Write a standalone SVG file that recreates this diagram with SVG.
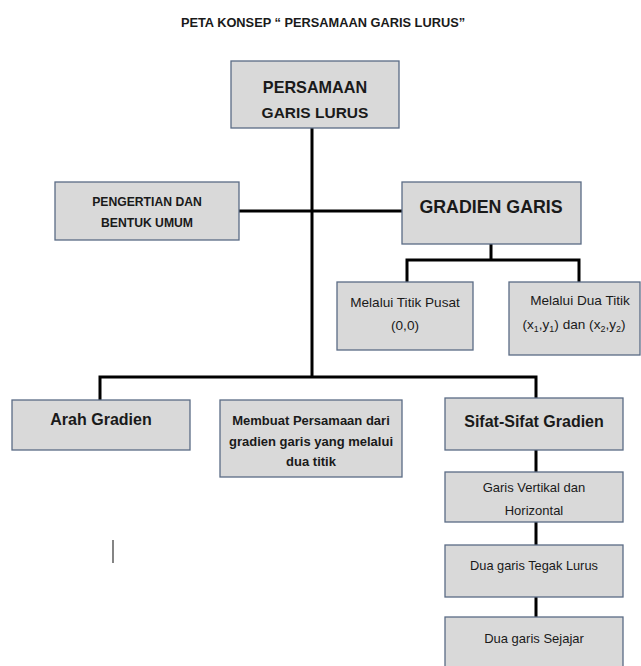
<svg xmlns="http://www.w3.org/2000/svg" width="641" height="666" viewBox="0 0 641 666">
<style>
.box{fill:#d9d9d9;stroke:#5a6b85;stroke-width:1.3}
.t{font-family:"Liberation Sans",Arial,sans-serif;fill:#1a1a1a;text-anchor:middle}
.b{font-weight:bold}
.c{stroke:#000;stroke-width:3;fill:none;stroke-linecap:square}
</style>
<rect width="641" height="666" fill="#fff"/>
<text class="t b" x="323" y="27" font-size="12.8">PETA KONSEP “ PERSAMAAN GARIS LURUS”</text>
<g id="connectors">
<path class="c" d="M312 128V377M239 211H402M491 244V260M407 260H579M407 260V282M579 260V282M100 377H536M100 377V400M536 377V398M536 450V472M536 522V545M536 597V617"/>
</g>
<g id="persamaan">
<rect class="box" x="231" y="61" width="168" height="67"/>
<text class="t b" x="315" y="93" font-size="16.2">PERSAMAAN</text>
<text class="t b" x="315" y="118" font-size="15.5">GARIS LURUS</text>
</g>
<g id="pengertian">
<rect class="box" x="55" y="182" width="184" height="58"/>
<text class="t b" x="147" y="206" font-size="12.2">PENGERTIAN DAN</text>
<text class="t b" x="147" y="227" font-size="12.2">BENTUK UMUM</text>
</g>
<g id="gradien">
<rect class="box" x="402" y="182" width="179" height="62"/>
<text class="t b" x="491" y="213" font-size="17.8">GRADIEN GARIS</text>
</g>
<g id="titik-pusat">
<rect class="box" x="337" y="282" width="136" height="68"/>
<text class="t" x="405" y="307" font-size="13.6">Melalui Titik Pusat</text>
<text class="t" x="405" y="330" font-size="13.6">(0,0)</text>
</g>
<g id="dua-titik">
<rect class="box" x="509" y="282" width="131" height="73"/>
<text class="t" x="580" y="305" font-size="13.6">Melalui Dua Titik</text>
<text class="t" x="574" y="329" font-size="13.6">(x<tspan font-size="9" dy="3">1</tspan><tspan dy="-3">,y</tspan><tspan font-size="9" dy="3">1</tspan><tspan dy="-3">) dan (x</tspan><tspan font-size="9" dy="3">2</tspan><tspan dy="-3">,y</tspan><tspan font-size="9" dy="3">2</tspan><tspan dy="-3">)</tspan></text>
</g>
<g id="arah">
<rect class="box" x="12" y="400" width="178" height="50"/>
<text class="t b" x="101" y="425" font-size="16">Arah Gradien</text>
</g>
<g id="membuat">
<rect class="box" x="220" y="400" width="182" height="77"/>
<text class="t b" x="311" y="425" font-size="13">Membuat Persamaan dari</text>
<text class="t b" x="311" y="446" font-size="13">gradien garis yang melalui</text>
<text class="t b" x="311" y="466" font-size="13">dua titik</text>
</g>
<g id="sifat">
<rect class="box" x="445" y="398" width="178" height="52"/>
<text class="t b" x="534" y="427" font-size="16">Sifat-Sifat Gradien</text>
</g>
<g id="vertikal">
<rect class="box" x="445" y="472" width="178" height="50"/>
<text class="t" x="534" y="492" font-size="13">Garis Vertikal dan</text>
<text class="t" x="534" y="515" font-size="13">Horizontal</text>
</g>
<g id="tegak">
<rect class="box" x="445" y="545" width="178" height="52"/>
<text class="t" x="534" y="570" font-size="12.8">Dua garis Tegak Lurus</text>
</g>
<g id="sejajar">
<rect class="box" x="445" y="617" width="178" height="55"/>
<text class="t" x="534" y="643" font-size="13">Dua garis Sejajar</text>
</g>
<line x1="113" y1="540" x2="113" y2="563" stroke="#333" stroke-width="1.2"/>
</svg>
